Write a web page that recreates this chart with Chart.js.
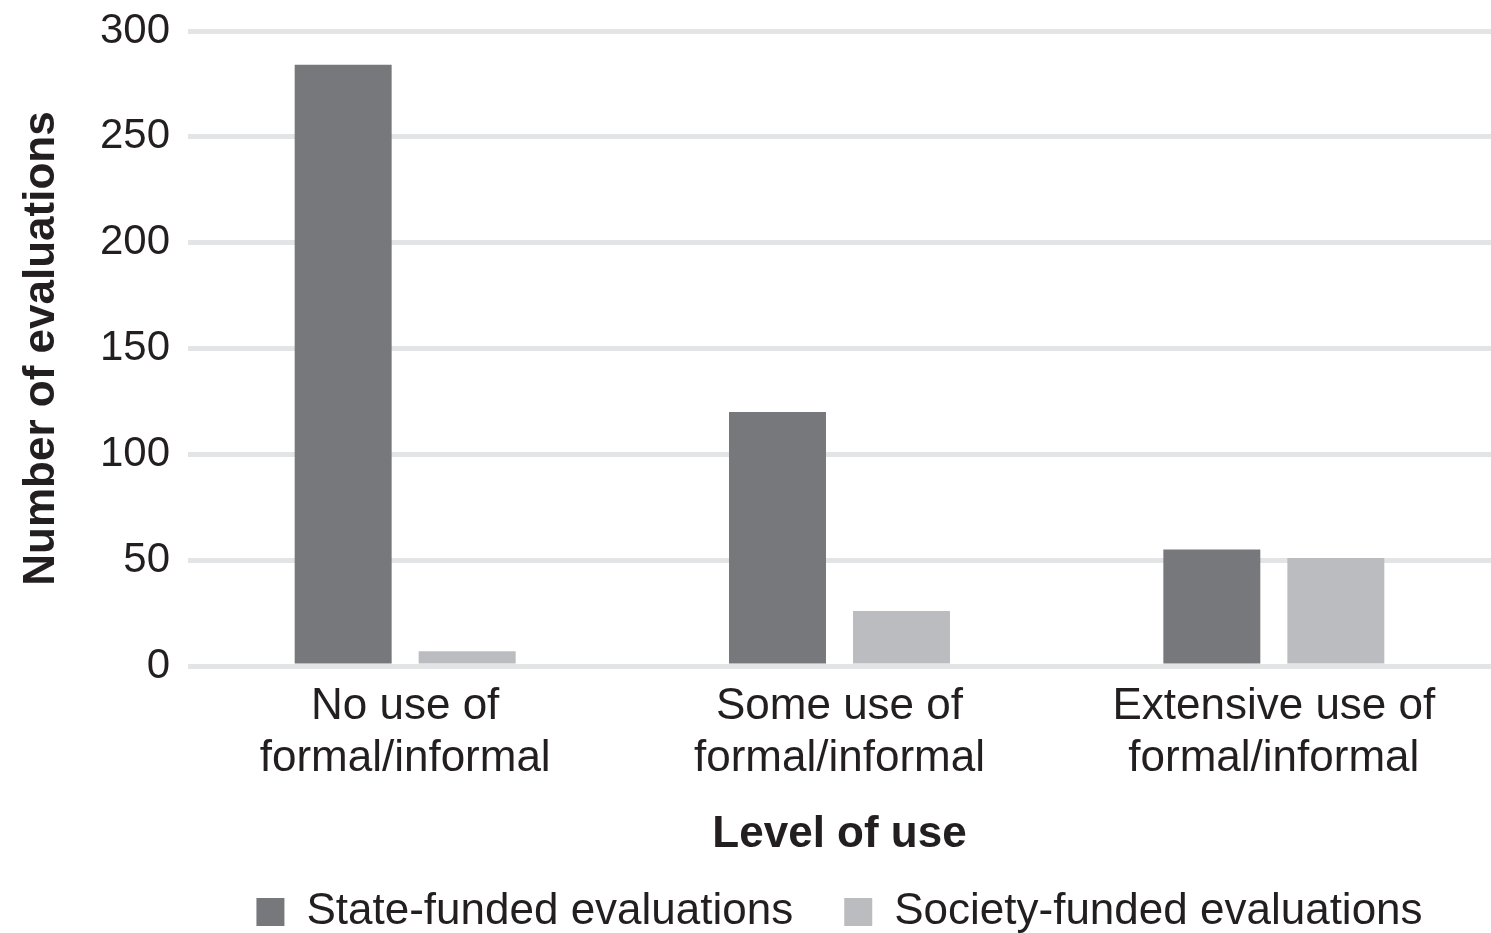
<!DOCTYPE html>
<html>
<head>
<meta charset="utf-8">
<script src="https://cdn.jsdelivr.net/npm/chart.js@4"></script>
<style>
  html, body { margin: 0; padding: 0; background: #fff; overflow: hidden; }
  #wrap { width: 1491px; height: 944px; }
</style>
</head>
<body>
<div id="wrap"><canvas id="useChart"></canvas></div>
<script>
// data
const categories = [
  ["No use of", "formal/informal"],
  ["Some use of", "formal/informal"],
  ["Extensive use of", "formal/informal"]
];
const stateFunded = [284, 120, 55];
const societyFunded = [7, 26, 51];
const yTicks = [0, 50, 100, 150, 200, 250, 300];

const textColor = "#231f20";
const fontFamily = "'Liberation Sans', Arial, sans-serif";

const ctx = document.getElementById("useChart").getContext("2d");
const useChart = new Chart(ctx, {
  type: "bar",
  data: {
    labels: categories,
    datasets: [
      { label: "State-funded evaluations", data: stateFunded, backgroundColor: "#77787b" },
      { label: "Society-funded evaluations", data: societyFunded, backgroundColor: "#bbbcbf" }
    ]
  },
  options: {
    responsive: true,
    maintainAspectRatio: false,
    devicePixelRatio: 1,
    animation: false,
    categoryPercentage: 0.571,
    barPercentage: 0.782,
    layout: { padding: { top: 31, right: 0, bottom: 0, left: 0 } },
    plugins: {
      tooltip: { enabled: false },
      legend: {
        position: "bottom",
        fullSize: false,
        labels: {
          color: textColor,
          font: { family: fontFamily, size: 44 },
          boxWidth: 28,
          boxHeight: 28,
          padding: 51
        }
      }
    },
    scales: {
      x: {
        afterFit: (scale) => { scale.height = 173; },
        grid: { display: false, drawTicks: false },
        border: { display: false },
        ticks: {
          color: textColor,
          font: { family: fontFamily, size: 44, lineHeight: 1.18 },
          padding: 15,
          maxRotation: 0
        },
        title: {
          display: true,
          text: "Level of use",
          color: textColor,
          font: { family: fontFamily, size: 44, weight: "bold", lineHeight: 1 },
          padding: { top: 0, bottom: -18 }
        }
      },
      y: {
        min: 0,
        max: 300,
        afterBuildTicks: (scale) => { scale.ticks = yTicks.map(v => ({ value: v })); },
        afterFit: (scale) => { scale.width = 188; scale.paddingTop = 0; },
        grid: { color: "#e3e4e5", lineWidth: 5, drawTicks: false },
        border: { display: false },
        ticks: {
          color: textColor,
          font: { family: fontFamily, size: 42 },
          padding: 18
        },
        title: {
          display: true,
          text: "Number of evaluations",
          color: textColor,
          font: { family: fontFamily, size: 44, weight: "bold" },
          padding: { top: 15, bottom: 0 }
        }
      }
    }
  }
});
</script>
</body>
</html>
